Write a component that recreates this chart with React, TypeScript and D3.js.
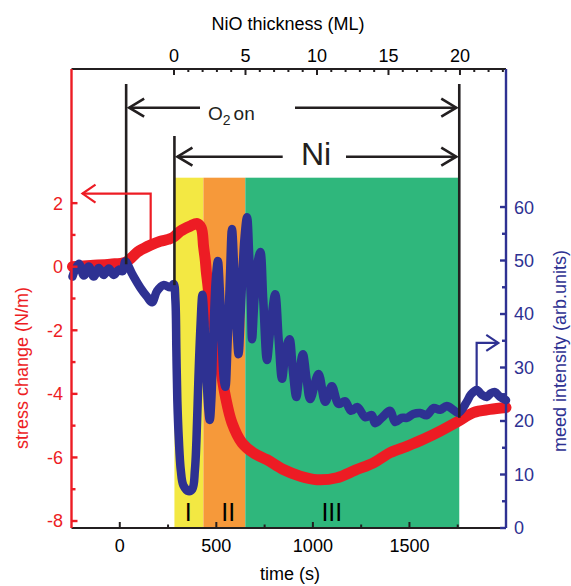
import React from 'react';
import * as d3 from 'd3';

// stress curve (left axis)
const stressTime = [-245, -150, -50, 29, 64, 91, 125, 159, 210, 250, 278, 314, 366, 401, 422, 434, 443, 448, 455, 469, 495, 521, 547, 581, 633, 693, 762, 847, 935, 1021, 1124, 1220, 1314, 1400, 1486, 1575, 1659, 1753, 1831, 1917, 2000];
const stressValue = [0.0, 0.04, 0.08, 0.14, 0.3, 0.46, 0.58, 0.68, 0.8, 0.86, 0.93, 1.12, 1.28, 1.36, 1.22, 0.63, 0.2, -0.15, -0.51, -1.25, -2.08, -3.13, -4.08, -4.91, -5.54, -5.86, -6.07, -6.38, -6.59, -6.7, -6.64, -6.4, -6.17, -5.85, -5.65, -5.42, -5.17, -4.86, -4.59, -4.49, -4.43];

// meed intensity (right axis)
const meedTime = [-245, -212, -186, -161, -135, -109, -83, -57, -31, -5, 15, 29, 64, 107, 142, 167, 193, 227, 262, 279,
  288, 293, 298, 306, 316, 329, 355, 376, 389, 397, 407, 417, 428,
  438, 448, 459, 466, 474, 484, 497, 508, 518, 528, 539, 547, 557, 570, 581, 593, 606, 615, 629, 645, 659, 671, 679, 685,
  697, 712, 728, 743, 762, 779, 805, 823, 840, 860, 879, 896, 914, 932, 948, 968, 986, 1029, 1064, 1098, 1133, 1167, 1197,
  1231, 1271, 1305, 1322, 1357, 1400, 1426, 1460, 1486, 1520, 1555, 1590, 1624, 1659, 1693, 1727, 1753, 1797, 1819, 1849,
  1875, 1900, 1922, 1943, 1969, 2000];
const meedValue = [47.0, 49.4, 47.2, 48.9, 47.0, 48.6, 47.3, 48.5, 47.3, 48.3, 48.0, 49.8, 47.5, 44.9, 43.2, 42.2, 44.3, 45.4, 45.0, 45.6,
  42.6, 33.3, 23.9, 16.4, 10.8, 8.0, 6.9, 7.3, 10.8, 16.4, 27.7, 37.0, 43.6,
  38.9, 29.5, 22.1, 20.2, 23.9, 35.1, 46.4, 49.9, 44.5, 35.1, 27.7, 26.4, 33.3, 46.4, 55.9, 48.0, 36.8, 32.5, 42.6, 53.8, 58.1, 50.1, 42.6, 35.3,
  42.6, 49.2, 51.6, 42.6, 31.4, 37.0, 43.7, 35.1, 27.9, 33.3, 35.3, 29.5, 24.5, 29.5, 32.5, 27.7, 24.1, 28.8, 23.6, 26.5, 23.2, 23.7, 21.9,
  22.6, 20.7, 21.1, 19.6, 20.6, 21.9, 19.8, 20.6, 20.6, 21.3, 21.5, 21.1, 22.4, 22.1, 22.8, 22.1, 21.5, 23.6, 25.0, 25.8,
  24.9, 24.5, 25.2, 25.4, 24.5, 23.9];

const timeTicks = [0, 500, 1000, 1500];
const timeMinor = [250, 750, 1250, 1750];
const stressTicks = [-8, -6, -4, -2, 0, 2];
const stressMinor = [-7, -5, -3, -1, 1];
const meedTicks = [0, 10, 20, 30, 40, 50, 60];
const meedMinor = [5, 15, 25, 35, 45, 55];
const thickTicks = [0, 5, 10, 15, 20];
const thickMinor = d3.range(1, 24).filter(v => v % 5 !== 0);

const phaseNames = ['I', 'II', 'III'];
const phaseStart = [283, 433, 650];
const phaseEnd = [433, 650, 1758];
const phaseColors = ['#f3e843', '#f6993a', '#2fb77c'];
const phaseLabelTime = [354, 562, 1098];

const o2OnTime = 33;
const niStart = 283;
const niEnd = 1758;

const RED = '#ed1c24';
const BLUE = '#2e3192';
const INK = '#231f20';
const FONT = '"Liberation Sans", Arial, Helvetica, sans-serif';

export default function App() {
  const left = 71.5, right = 506, top = 69, bottom = 528;

  const x = d3.scaleLinear().domain([-250, 2000]).range([left, right]);
  const xThick = d3.scaleLinear().domain([-7.17, 23.22]).range([left, right]);
  const yS = d3.scaleLinear().domain([-8.22, 6.22]).range([bottom, top]);
  const yM = d3.scaleLinear().domain([0, 85.8]).range([bottom, top]);

  const stressPts: [number, number][] = stressTime.map((t, i) => [t, stressValue[i]]);
  const meedPts: [number, number][] = meedTime.map((t, i) => [t, meedValue[i]]);

  const stressLine = d3.line<[number, number]>()
    .x(d => x(d[0])).y(d => yS(d[1]))
    .curve(d3.curveCatmullRom.alpha(0.5));
  const meedLine = d3.line<[number, number]>()
    .x(d => x(d[0])).y(d => yM(d[1]))
    .curve(d3.curveCatmullRom.alpha(0.5));

  const head = (tx: number, ty: number, dir: number, w = 15, h = 9) =>
    `M${tx + dir * w},${ty - h}L${tx},${ty}L${tx + dir * w},${ty + h}`;

  const xO2 = x(o2OnTime), xNi = x(niStart), xEnd = x(niEnd);
  const rowO2 = 107.7, rowNi = 156.7;

  // red "points to left axis" arrow
  const redArrX = x(160), redArrTop = yS(2.3), redArrBot = yS(0.82), redTip = x(-193);
  // blue "points to right axis" arrow
  const blueArrX = x(1848), blueArrTop = yM(34.6), blueArrBot = yM(26.2), blueTip = x(1960);

  return (
    <svg width={571} height={586} style={{ position: 'absolute', left: 0, top: 0, background: '#fff' }}
      fontFamily={FONT}>
      {phaseNames.map((p, i) => (
        <rect key={p} x={x(phaseStart[i])} y={177.7} width={x(phaseEnd[i]) - x(phaseStart[i])}
          height={bottom - 177.7} fill={phaseColors[i]} />
      ))}

      <path d={stressLine(stressPts) || ''} fill="none" stroke={RED} strokeWidth={11}
        strokeLinecap="round" strokeLinejoin="round" />
      <path d={meedLine(meedPts) || ''} fill="none" stroke={BLUE} strokeWidth={8.5}
        strokeLinecap="round" strokeLinejoin="round" />

      {phaseNames.map((p, i) => (
        <text key={p} x={x(phaseLabelTime[i])} y={521} fontSize={25} textAnchor="middle" fill="#000">{p}</text>
      ))}

      {/* markers for O2 and Ni */}
      <g stroke={INK} strokeWidth={2.6} fill="none">
        <line x1={xO2} x2={xO2} y1={84} y2={yM(49.3)} />
        <line x1={xNi} x2={xNi} y1={136} y2={yM(45.4)} />
        <line x1={xEnd} x2={xEnd} y1={84} y2={yM(20.6)} />
        <line x1={xO2 + 3} x2={200} y1={rowO2} y2={rowO2} />
        <line x1={295} x2={xEnd - 3} y1={rowO2} y2={rowO2} />
        <path d={head(xO2 + 3, rowO2, 1)} />
        <path d={head(xEnd - 3, rowO2, -1)} />
        <line x1={xNi + 3} x2={282.7} y1={rowNi} y2={rowNi} />
        <line x1={346} x2={xEnd - 3} y1={rowNi} y2={rowNi} />
        <path d={head(xNi + 3, rowNi, 1)} />
        <path d={head(xEnd - 3, rowNi, -1)} />
      </g>
      <text x={208} y={120} fontSize={19} fill={INK}>
        O<tspan fontSize={14} dy={5}>2</tspan><tspan dy={-5} dx={3}>on</tspan>
      </text>
      <text x={316} y={165} fontSize={32} fill={INK} textAnchor="middle">Ni</text>

      <g fill="none" strokeWidth={2.2}>
        <path stroke={RED} d={`M${redArrX},${redArrBot}V${redArrTop}H${redTip}`} />
        <path stroke={RED} d={head(redTip, redArrTop, 1, 13, 9)} />
        <path stroke={BLUE} d={`M${blueArrX},${blueArrBot}V${blueArrTop}H${blueTip}`} />
        <path stroke={BLUE} d={head(blueTip, blueArrTop, -1, 12, 8)} />
      </g>

      {/* bottom axis */}
      <g stroke={INK} strokeWidth={2}>
        <line x1={left} x2={right} y1={bottom} y2={bottom} />
        {timeTicks.map(t => <line key={t} x1={x(t)} x2={x(t)} y1={bottom} y2={bottom - 6} />)}
        {timeMinor.map(t => <line key={t} x1={x(t)} x2={x(t)} y1={bottom} y2={bottom - 3.5} />)}
      </g>
      {timeTicks.map(t => (
        <text key={t} x={x(t)} y={552} fontSize={18} textAnchor="middle" fill="#000">{t}</text>
      ))}
      <text x={290} y={580} fontSize={18} textAnchor="middle" fill="#000">time (s)</text>

      {/* top axis */}
      <g stroke={INK} strokeWidth={2}>
        <line x1={left} x2={right} y1={top} y2={top} />
        {thickTicks.map(t => <line key={t} x1={xThick(t)} x2={xThick(t)} y1={top} y2={top + 6} />)}
        {thickMinor.map(t => <line key={t} x1={xThick(t)} x2={xThick(t)} y1={top} y2={top + 3} />)}
      </g>
      {thickTicks.map(t => (
        <text key={t} x={xThick(t)} y={61.5} fontSize={18} textAnchor="middle" fill="#000">{t}</text>
      ))}
      <text x={288} y={29.5} fontSize={18} textAnchor="middle" fill="#000">NiO thickness (ML)</text>

      {/* left axis */}
      <g stroke={RED} strokeWidth={2.4}>
        <line x1={left} x2={left} y1={top} y2={bottom} />
        {stressTicks.map(v => <line key={v} x1={left} x2={left + 6} y1={yS(v)} y2={yS(v)} />)}
        {stressMinor.map(v => <line key={v} x1={left} x2={left + 4} y1={yS(v)} y2={yS(v)} />)}
      </g>
      {stressTicks.map(v => (
        <text key={v} x={63} y={yS(v)} dy="0.36em" fontSize={18} textAnchor="end" fill={RED}>{v}</text>
      ))}
      <text transform="translate(28,368) rotate(-90)" fontSize={18} textAnchor="middle" fill={RED}>stress change (N/m)</text>

      {/* right axis */}
      <g stroke={BLUE} strokeWidth={2.4}>
        <line x1={right} x2={right} y1={top} y2={bottom} />
        {meedTicks.map(v => <line key={v} x1={right} x2={right - 6} y1={yM(v)} y2={yM(v)} />)}
        {meedMinor.map(v => <line key={v} x1={right} x2={right - 4} y1={yM(v)} y2={yM(v)} />)}
      </g>
      {meedTicks.map(v => (
        <text key={v} x={514} y={yM(v)} dy="0.36em" fontSize={18} fill={BLUE}>{v}</text>
      ))}
      <text transform="translate(566,351) rotate(-90)" fontSize={18} textAnchor="middle" fill={BLUE}>meed intensity (arb.units)</text>
    </svg>
  );
}
